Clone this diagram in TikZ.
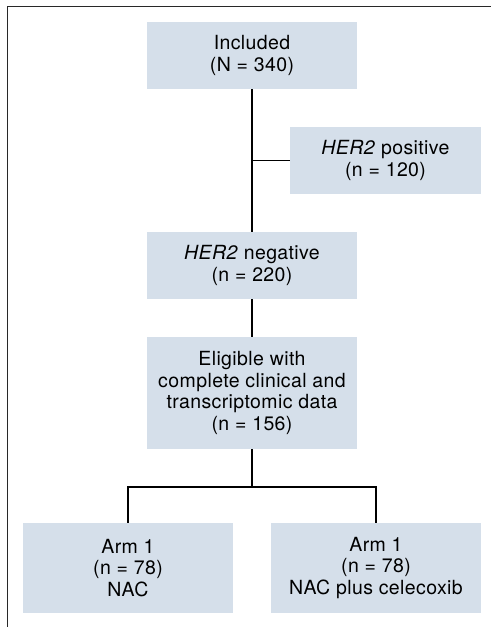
\documentclass[tikz,border=0pt]{standalone}
\usepackage{fontspec}
\setmainfont{TeX Gyre Heros}[LetterSpace=2]
\definecolor{boxfill}{RGB}{213,223,234}
\definecolor{framegray}{RGB}{40,40,40}
\tikzset{flow/.style={x=1pt,y=-1pt,font=\fontsize{19.5}{21.7}\selectfont}}
\tikzset{stage/.style={fill=boxfill,minimum width=210pt,minimum height=67pt,align=center,inner sep=0pt},
         link/.style={black,line width=1.4pt},
         rule/.style={framegray,line width=1pt}}

\begin{document}
\begin{tikzpicture}[flow]
    \useasboundingbox (0,0) rectangle (491,627);
    \draw[rule] (7,627) -- (7,6) -- (491,6);
    \node[stage] (incl) at (252,55.5) {Included\\(N = 340)};
    \node[stage,minimum width=191pt] (pos) at (385.5,160.5) {\textit{HER2} positive\\(n = 120)};
    \node[stage] (neg) at (252,265.5) {\textit{HER2} negative\\(n = 220)};
    \node[stage,minimum height=112pt] (elig) at (252,393) {Eligible with\\complete clinical and\\transcriptomic data\\(n = 156)};
    \node[stage,minimum height=90pt] (arma) at (128,568) {Arm 1\\(n = 78)\\NAC};
    \node[stage,minimum height=90pt] (armb) at (376,568) {Arm 1\\(n = 78)\\NAC plus celecoxib};
    \coordinate (split) at (252,487);
    \draw[link] (incl.south) -- (neg.north);
    \draw[link] (incl.south |- pos.west) -- (pos.west);
    \draw[link] (neg.south) -- (elig.north);
    \draw[link] (elig.south) -- (split);
    \draw[link] (arma.north) |- (split) -| (armb.north);
\end{tikzpicture}
\end{document}
